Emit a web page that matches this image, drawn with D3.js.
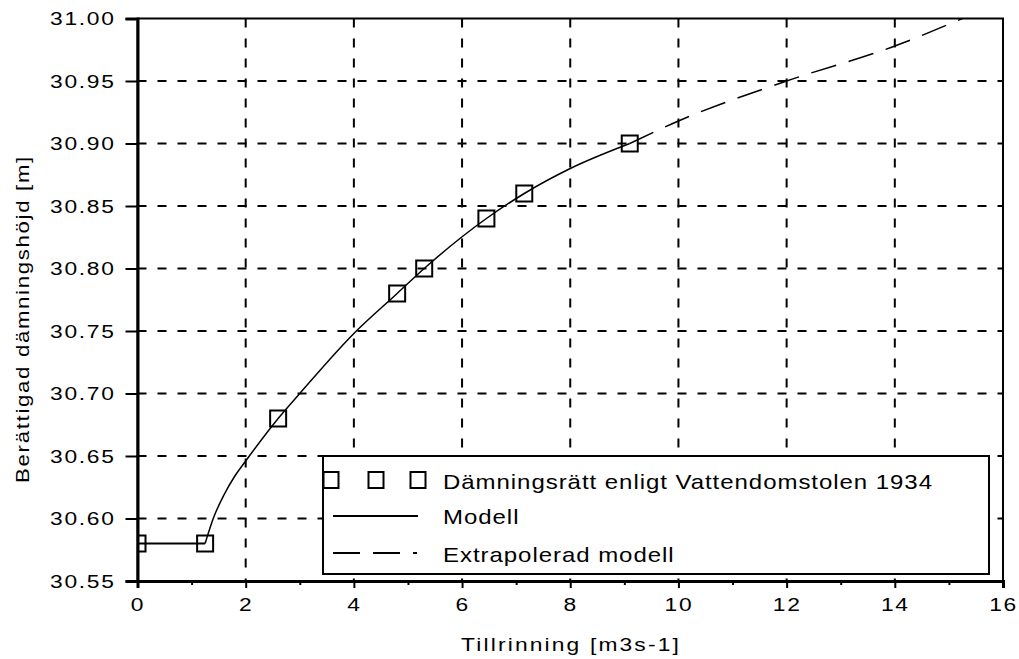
<!DOCTYPE html>
<html>
<head>
<meta charset="utf-8">
<script src="https://cdn.jsdelivr.net/npm/d3@7"></script>
<style>
  body { margin: 0; background: #fff; }
  text { font-family: "Liberation Sans", Arial, sans-serif; fill: #000; }
</style>
</head>
<body>
<script>
// observed points (Vattendomstolen 1934)
let obsQ = [0, 1.25, 2.6, 4.8, 5.3, 6.45, 7.15, 9.1];
let obsH = [30.58, 30.58, 30.68, 30.78, 30.80, 30.84, 30.86, 30.90];

// model curve
let modelQ = [0, 1.25, 1.4, 1.6, 1.8, 2.0, 2.6, 3.0, 4.0, 4.8, 5.3, 6.45, 7.15, 8.0, 9.1];
let modelH = [30.58, 30.58, 30.60, 30.619, 30.634, 30.646, 30.68, 30.70, 30.748, 30.78, 30.80, 30.84, 30.86, 30.88, 30.90];

// extrapolated part
let extraQ = [9.1, 10, 12, 14, 15.25];
let extraH = [30.90, 30.918, 30.95, 30.978, 31.00];

let xTicks = [0, 2, 4, 6, 8, 10, 12, 14, 16];
let xMinor = [1, 3, 5, 7, 9, 11, 13, 15];
let yTicks = [30.55, 30.60, 30.65, 30.70, 30.75, 30.80, 30.85, 30.90, 30.95, 31.00];

let legendLabels = ["Dämningsrätt enligt Vattendomstolen 1934", "Modell", "Extrapolerad modell"];

let W = 1019, H = 659;
let mLeft = 137.5, mRight = 1003, mTop = 18.5, mBottom = 581;
let SX = 1.2; // the original font is wide

let xScale = d3.scaleLinear().domain([0, 16]).range([mLeft, mRight]);
let yScale = d3.scaleLinear().domain([30.55, 31.00]).range([mBottom, mTop]);

let svg = d3.select("body").append("svg")
    .attr("width", W).attr("height", H);

let defs = svg.append("defs");
defs.append("clipPath").attr("id", "plot")
    .append("rect")
    .attr("x", mLeft).attr("y", mTop)
    .attr("width", mRight - mLeft).attr("height", mBottom - mTop);

// grid
let grid = svg.append("g")
    .attr("stroke", "#000").attr("stroke-width", 2).attr("stroke-dasharray", "9,11");
grid.selectAll("line.v").data(xTicks.slice(1, -1)).enter()
    .append("line")
    .attr("x1", d => xScale(d)).attr("x2", d => xScale(d))
    .attr("y1", mTop).attr("y2", mBottom);
grid.selectAll("line.h").data(yTicks.slice(1, -1)).enter()
    .append("line")
    .attr("x1", mLeft).attr("x2", mRight)
    .attr("y1", d => yScale(d)).attr("y2", d => yScale(d));

// frame
svg.append("rect")
    .attr("x", mLeft).attr("y", mTop)
    .attr("width", mRight - mLeft).attr("height", mBottom - mTop)
    .attr("fill", "none").attr("stroke", "#000").attr("stroke-width", 2);

// lines
let plot = svg.append("g").attr("clip-path", "url(#plot)");
let pts = (qs, hs) => qs.map((q, i) => [q, hs[i]]);
let lineLin = d3.line().x(d => xScale(d[0])).y(d => yScale(d[1]));
let lineSmooth = d3.line().x(d => xScale(d[0])).y(d => yScale(d[1])).curve(d3.curveMonotoneX);

let model = pts(modelQ, modelH);
plot.append("path")
    .attr("d", lineLin(model.slice(0, 2)))
    .attr("fill", "none").attr("stroke", "#000").attr("stroke-width", 2);
plot.append("path")
    .attr("d", lineSmooth(model.slice(1)))
    .attr("fill", "none").attr("stroke", "#000").attr("stroke-width", 1.5);
plot.append("path")
    .attr("d", lineSmooth(pts(extraQ, extraH)))
    .attr("fill", "none").attr("stroke", "#000").attr("stroke-width", 1.5)
    .attr("stroke-dasharray", "26,13");

plot.selectAll("rect.obs").data(pts(obsQ, obsH)).enter()
    .append("rect")
    .attr("x", d => xScale(d[0]) - 8).attr("y", d => yScale(d[1]) - 8)
    .attr("width", 16).attr("height", 16)
    .attr("fill", "none").attr("stroke", "#000").attr("stroke-width", 2);

// axes
let yAxis = svg.append("g")
    .attr("transform", "translate(" + mLeft + ",0)")
    .call(d3.axisLeft(yScale).tickValues(yTicks).tickSize(12).tickFormat(d3.format(".2f")));
let xAxis = svg.append("g")
    .attr("transform", "translate(0," + mBottom + ")")
    .call(d3.axisBottom(xScale).tickValues(xTicks).tickSize(7));
svg.append("g")
    .attr("transform", "translate(0," + mBottom + ")")
    .call(d3.axisBottom(xScale).tickValues(xMinor).tickSize(4).tickFormat(""))
    .select(".domain").remove();

[yAxis, xAxis].forEach(a => {
    a.select(".domain").attr("stroke-width", 3);
});
svg.selectAll(".tick line").attr("stroke-width", 2);

yAxis.selectAll("text")
    .attr("x", -22 / SX)
    .attr("transform", "scale(" + SX + ",1)")
    .style("font-size", "19px").style("letter-spacing", "1.4px");
xAxis.selectAll("text")
    .attr("y", 17)
    .attr("transform", "scale(" + SX + ",1)")
    .style("font-size", "19px").style("letter-spacing", "1.4px");

// axis titles
svg.append("text")
    .attr("transform", "translate(571,651) scale(" + SX + ",1)")
    .attr("text-anchor", "middle")
    .style("font-size", "19px").style("letter-spacing", "1.8px")
    .text("Tillrinning [m3s-1]");
svg.append("text")
    .attr("transform", "translate(29,319) rotate(-90) scale(" + SX + ",1)")
    .attr("text-anchor", "middle")
    .style("font-size", "18.5px").style("letter-spacing", "1.4px")
    .text("Berättigad dämningshöjd [m]");

// legend
let lx = 323, ly = 456, lw = 666, lh = 118;
defs.append("clipPath").attr("id", "leg")
    .append("rect").attr("x", lx).attr("y", ly).attr("width", lw).attr("height", lh);
svg.append("rect")
    .attr("x", lx).attr("y", ly).attr("width", lw).attr("height", lh)
    .attr("fill", "#fff").attr("stroke", "#000").attr("stroke-width", 2);
let leg = svg.append("g").attr("clip-path", "url(#leg)");
let rowY = [480, 516, 553];
let baseY = [489, 524, 562];

leg.selectAll("rect.m").data([331, 376, 418]).enter()
    .append("rect")
    .attr("x", d => d - 7.5).attr("y", rowY[0] - 8)
    .attr("width", 15).attr("height", 16)
    .attr("fill", "none").attr("stroke", "#000").attr("stroke-width", 2);
leg.append("line")
    .attr("x1", 333).attr("x2", 418).attr("y1", rowY[1]).attr("y2", rowY[1])
    .attr("stroke", "#000").attr("stroke-width", 2);
leg.append("line")
    .attr("x1", 333).attr("x2", 417).attr("y1", rowY[2]).attr("y2", rowY[2])
    .attr("stroke", "#000").attr("stroke-width", 2).attr("stroke-dasharray", "27,13");

svg.selectAll("text.leg").data(legendLabels).enter()
    .append("text")
    .attr("transform", (d, i) => "translate(443," + baseY[i] + ") scale(" + SX + ",1)")
    .style("font-size", "20px").style("letter-spacing", "0.8px")
    .text(d => d);
</script>
</body>
</html>
